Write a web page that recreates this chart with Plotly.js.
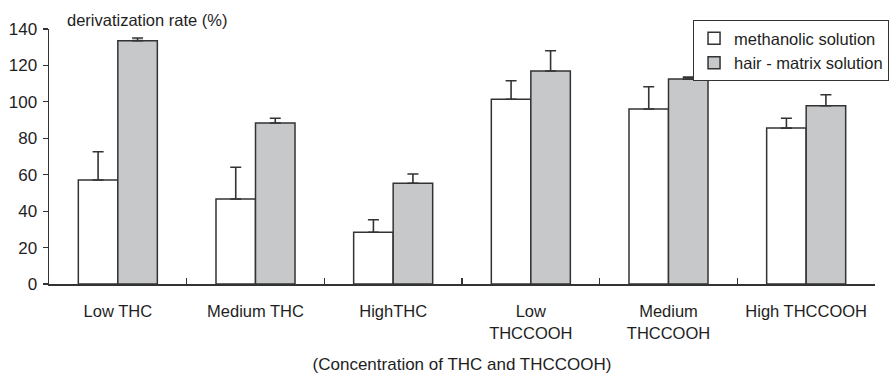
<!DOCTYPE html>
<html>
<head>
<meta charset="utf-8">
<script src="https://cdn.plot.ly/plotly-3.0.1.min.js"></script>
<style>html,body{margin:0;padding:0;background:#fff;}#chart{width:890px;height:379px;}</style>
</head>
<body>
<div id="chart"></div>
<script>
const categories = ["Low THC", "Medium THC", "HighTHC", "Low<br>THCCOOH", "Medium<br>THCCOOH", "High THCCOOH"];
const methanolic = [57.1, 46.7, 28.4, 101.4, 96.1, 85.6];
const methanolicErr = [15.5, 17.4, 6.9, 10.2, 12.2, 5.4];
const hairMatrix = [133.6, 88.4, 55.3, 116.9, 112.5, 97.9];
const hairMatrixErr = [1.5, 2.6, 5.1, 11.2, 1.1, 6.0];
const seriesNames = ["methanolic solution", "hair - matrix solution"];
const yTicks = [0, 20, 40, 60, 80, 100, 120, 140];

const zeros = n => new Array(n).fill(0);
const FONT = '"Liberation Sans", Arial, Helvetica, sans-serif';
const INK = '#333333';
const TXT = '#1e1e1e';

const errStyle = arr => ({
  type: 'data', symmetric: false, array: arr, arrayminus: zeros(arr.length),
  color: INK, thickness: 1.6, width: 5.5, visible: true
});

const traces = [
  {
    type: 'bar', name: seriesNames[0], x: categories, y: methanolic,
    marker: {color: '#ffffff', line: {color: INK, width: 1.5}},
    error_y: errStyle(methanolicErr)
  },
  {
    type: 'bar', name: seriesNames[1], x: categories, y: hairMatrix,
    marker: {color: '#c7c8ca', line: {color: INK, width: 1.5}},
    error_y: errStyle(hairMatrixErr)
  }
];

const layout = {
  width: 890, height: 379,
  margin: {l: 49, r: 15, t: 29, b: 95, pad: 0, autoexpand: false},
  paper_bgcolor: '#ffffff', plot_bgcolor: '#ffffff',
  font: {family: FONT, size: 16.5, color: TXT},
  barmode: 'group', bargap: 0.426, bargroupgap: 0,
  showlegend: true,
  legend: {
    x: 1.017, xanchor: 'right', y: 1.035, yanchor: 'top',
    bgcolor: '#ffffff', bordercolor: INK, borderwidth: 1,
    font: {family: FONT, size: 16.5, color: TXT},
    itemwidth: 30, tracegroupgap: 0, traceorder: 'normal'
  },
  xaxis: {
    type: 'category', tickson: 'boundaries', ticks: 'inside', ticklen: 6,
    tickcolor: INK, tickwidth: 1.5,
    showline: true, linecolor: INK, linewidth: 1.5, showgrid: false, zeroline: false,
    tickfont: {family: FONT, size: 16.5, color: TXT},
    ticklabelstandoff: 12,
    title: {text: '(Concentration of THC and THCCOOH)', font: {family: FONT, size: 17, color: TXT}, standoff: 17},
    automargin: false, fixedrange: true
  },
  yaxis: {
    range: [0, 140], tickmode: 'array', tickvals: yTicks, ticktext: yTicks.map(String),
    ticks: 'outside', ticklen: 5, tickcolor: INK, tickwidth: 1.2,
    showline: true, linecolor: INK, linewidth: 1.5, showgrid: false, zeroline: false,
    tickfont: {family: FONT, size: 17, color: TXT},
    ticklabelstandoff: 2,
    automargin: false, fixedrange: true
  },
  annotations: [{
    text: 'derivatization rate (%)', xref: 'paper', yref: 'paper',
    x: 0.0195, y: 1, xanchor: 'left', yanchor: 'middle', yshift: 9,
    showarrow: false, font: {family: FONT, size: 16.5, color: TXT}
  }]
};

Plotly.newPlot('chart', traces, layout, {displayModeBar: false, staticPlot: true});
</script>
</body>
</html>
